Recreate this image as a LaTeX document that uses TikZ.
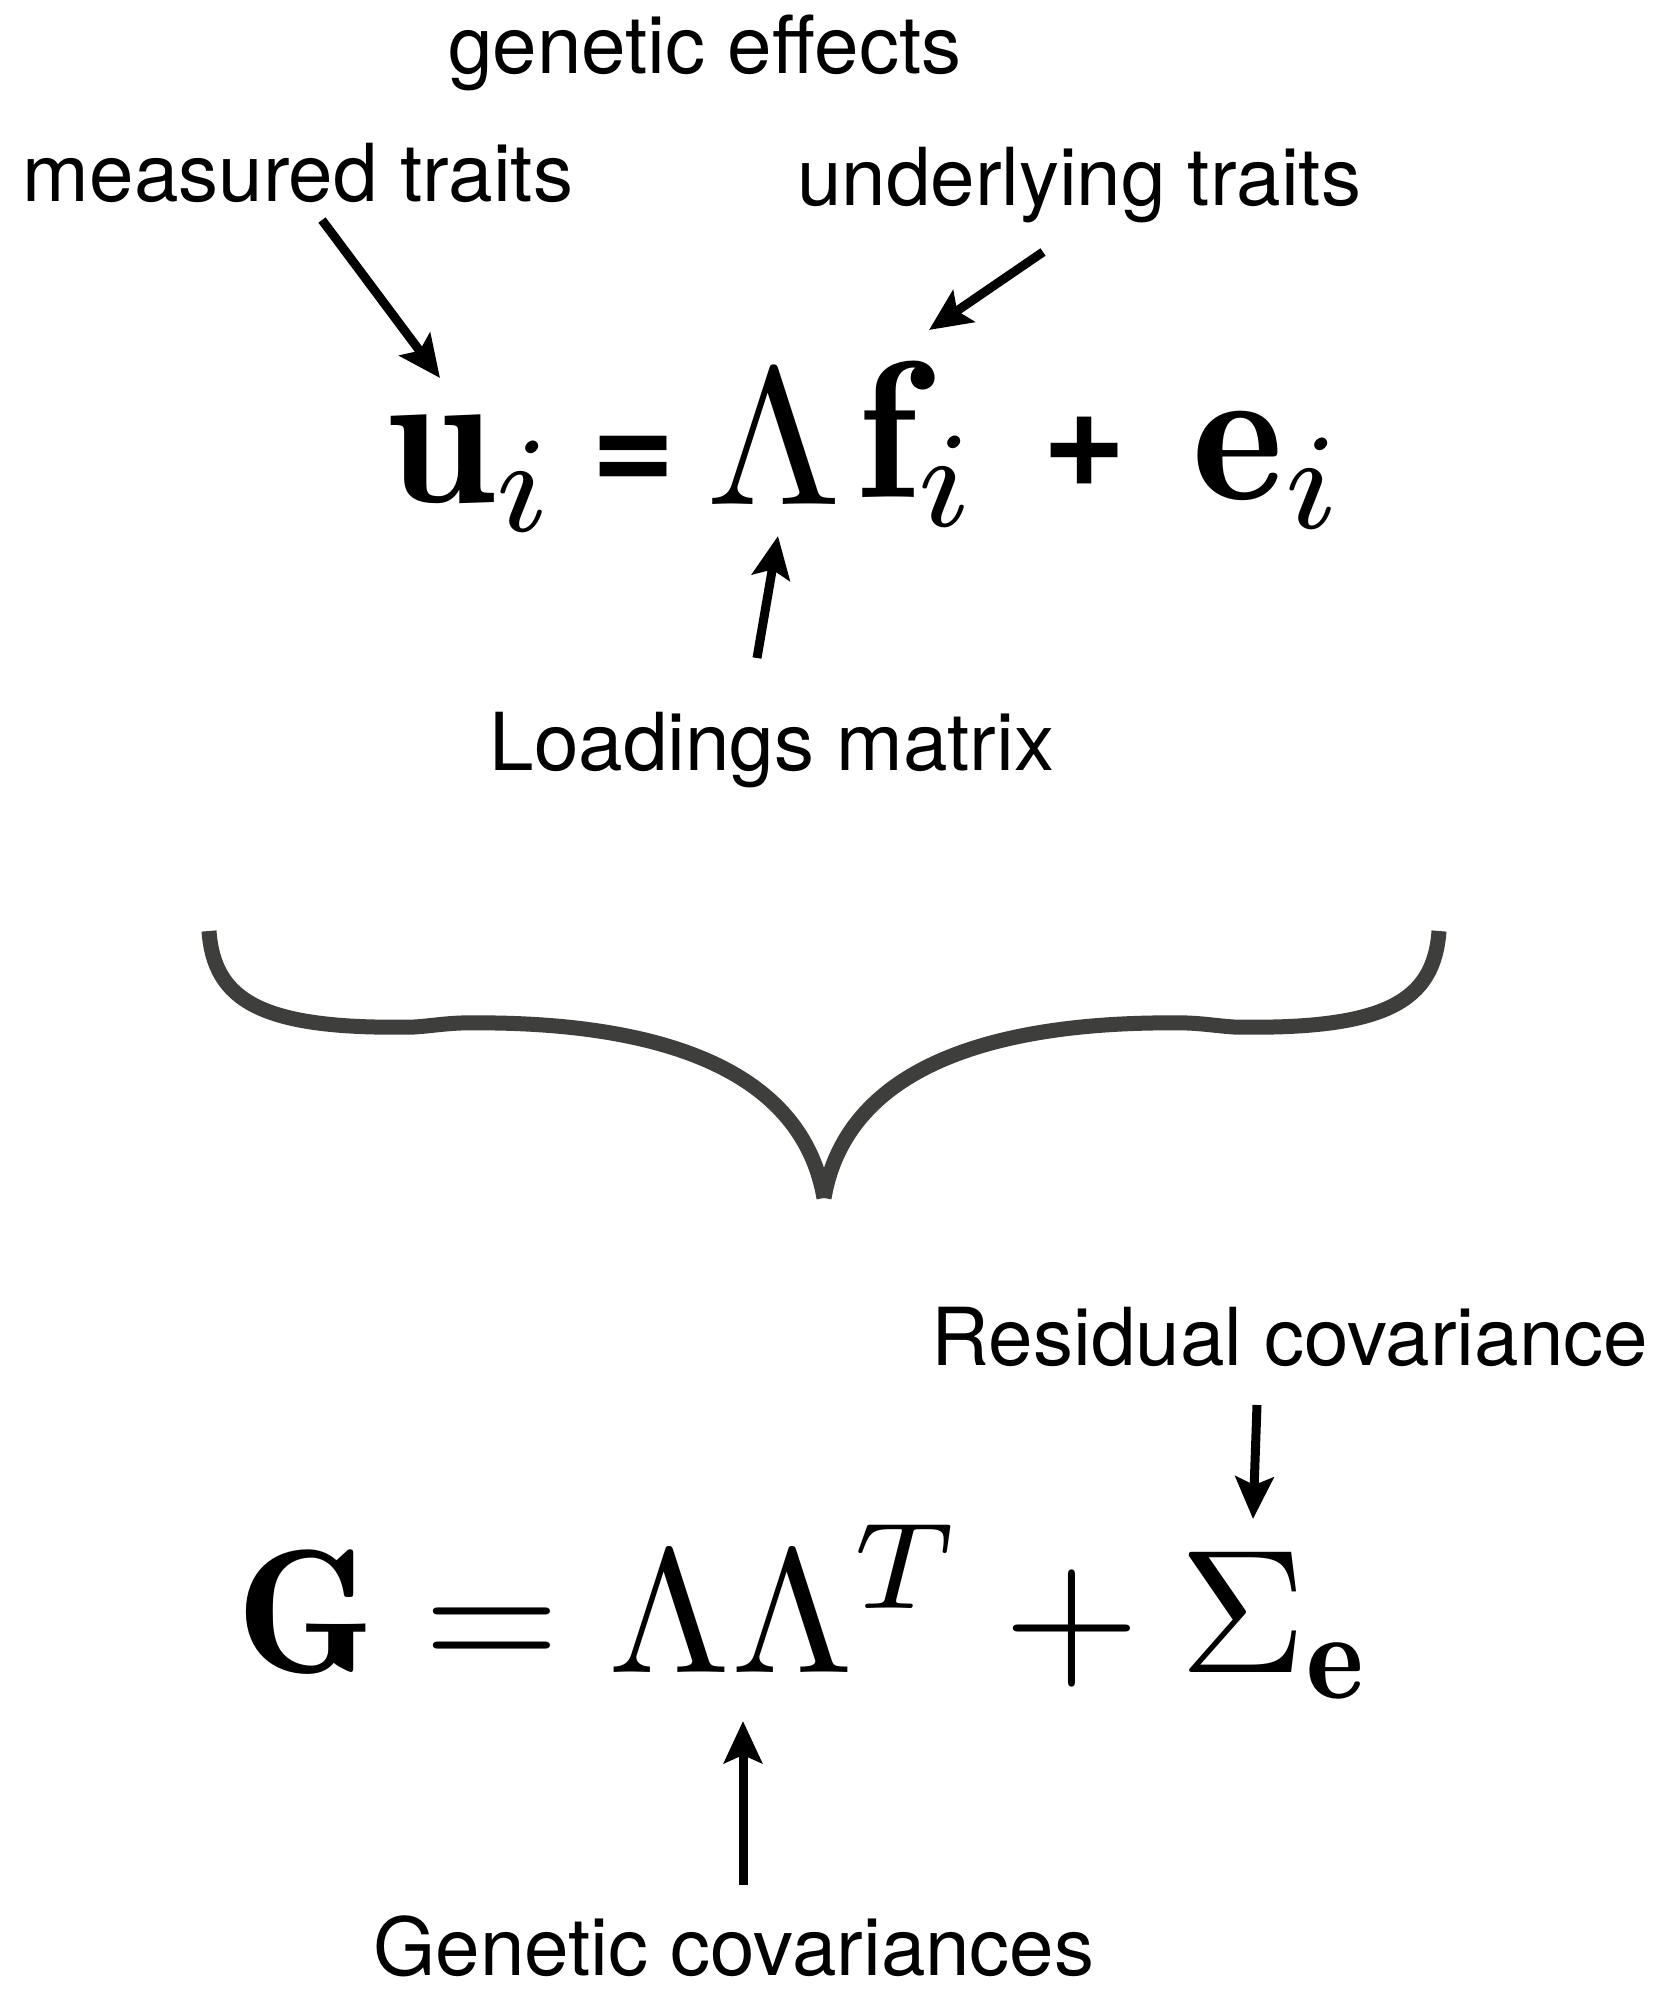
\documentclass[tikz,border=0pt]{standalone}
\usepackage{graphicx}
\usepackage{fontspec}
\newfontfamily\helv{TeX Gyre Heros}
\usetikzlibrary{arrows.meta}
\definecolor{bracegray}{HTML}{3E3E3C}
\newcommand{\bigtop}[1]{\scalebox{19.5}{\fontsize{10}{12}\selectfont$#1$}}
\newcommand{\bigbot}[1]{\scalebox{17.6}{\fontsize{10}{12}\selectfont$#1$}}
\tikzset{
  lbl/.style={font=\helv\fontsize{80}{90}\selectfont, inner sep=0pt, anchor=base},
  eqtop/.style={inner sep=0pt, anchor=base west},
  opsym/.style={font=\helv\bfseries\fontsize{144}{150}\selectfont, inner sep=0pt, anchor=base},
  eqbot/.style={inner sep=0pt, anchor=base west},
  arr/.style={line width=9pt, -{Stealth[length=42pt,width=38pt,inset=8pt]}},
  bracestroke/.style={draw=bracegray, line width=15pt, line cap=butt}
}
\begin{document}
\begin{tikzpicture}[x=1pt,y=-1pt]
\useasboundingbox (0,0) rectangle (1661,1990);
\fill[white] (0,0) rectangle (1661,1990);

% labels
\node[lbl] (genetic) at (705,73) {genetic effects};
\node[lbl] (measured) at (298,201) {measured traits};
\node[lbl] (underlying) at (1079,205) {underlying traits};
\node[lbl] (loadings) at (772,770) {Loadings matrix};
\node[lbl] (residual) at (1290,1365) {Residual covariance};
\node[lbl] (gencov) at (734,1975) {Genetic covariances};

% top equation
\node[eqtop] (ui) at (386,502) {\bigtop{\mathbf{u}_i}};
\node[opsym] (eq1) at (634,492) {=};
\node[eqtop] (lam) at (706,504) {\bigtop{\Lambda}};
\node[eqtop] (fi) at (857,497) {\bigtop{\mathbf{f}_i}};
\node[opsym] (plus1) at (1084.5,486) {+};
\node[eqtop] (ei) at (1192,499) {\bigtop{\mathbf{e}_i}};

% bottom equation
\node[eqbot] (geq) at (236,1672) {\bigbot{\mathbf{G} = \Lambda\Lambda^T + \Sigma_{\mathbf{e}}}};

% arrow end points
\coordinate (mtT) at (322,220);  \coordinate (mtH) at (440,378);
\coordinate (utT) at (1043,252); \coordinate (utH) at (929,330);
\coordinate (lmT) at (757,658);  \coordinate (lmH) at (778,536);
\coordinate (rcT) at (1257,1405); \coordinate (rcH) at (1253,1519);
\coordinate (gcT) at (743,1885); \coordinate (gcH) at (743,1721);

\draw[arr] (mtT) -- (mtH);
\draw[arr] (utT) -- (utH);
\draw[arr] (lmT) -- (lmH);
\draw[arr] (rcT) -- (rcH);
\draw[arr] (gcT) -- (gcH);

% brace
\coordinate (brL) at (209,931);
\coordinate (brR) at (1439,931);
\coordinate (brM) at (824,1198);
\draw[bracestroke] (brL) .. controls (214,1000) and (260,1030) .. (414,1027)
  .. controls (430,1026) and (440,1024) .. (460,1023)
  .. controls (640,1020) and (800,1060) .. (brM);
\draw[bracestroke] (brR) .. controls (1434,1000) and (1388,1030) .. (1234,1027)
  .. controls (1218,1026) and (1208,1024) .. (1188,1023)
  .. controls (1008,1020) and (848,1060) .. (brM);
\end{tikzpicture}
\end{document}
